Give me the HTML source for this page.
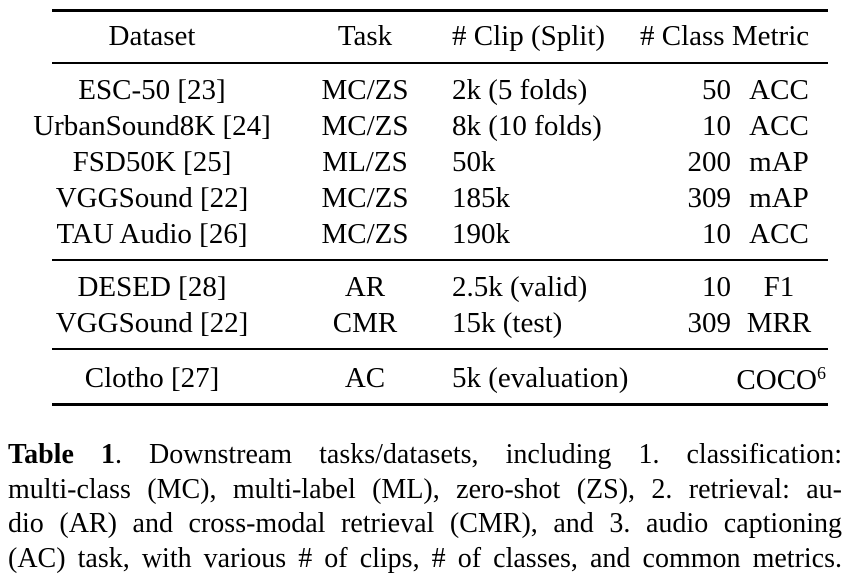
<!DOCTYPE html>
<html><head><style>
body{margin:0;width:852px;height:586px;background:#fff;overflow:hidden;position:relative;font-family:"Liberation Serif",serif;color:#000}
.t{position:absolute;font-size:29px;white-space:nowrap;line-height:1}
.c{transform:translateX(-50%)}
.r{transform:translateX(-100%)}
.rule{position:absolute;left:52px;width:776px;background:#000}
.cap{position:absolute;left:8px;width:834px;top:438px;font-size:28px;line-height:34.5px}
.cap div{text-align:justify;text-align-last:justify;white-space:nowrap;height:34.5px}
</style></head><body>
<div class="rule" style="top:9px;height:3px"></div>
<div class="rule" style="top:62px;height:2px"></div>
<div class="rule" style="top:259px;height:2px"></div>
<div class="rule" style="top:348px;height:2px"></div>
<div class="rule" style="top:403px;height:3px"></div>
<div id="tbl"></div>
<script>
var rows=[[45,"Dataset","Task","# Clip (Split)","# Class","Metric",1],
[99,"ESC-50 [23]","MC/ZS","2k (5 folds)","50","ACC"],
[135,"UrbanSound8K [24]","MC/ZS","8k (10 folds)","10","ACC"],
[171,"FSD50K [25]","ML/ZS","50k","200","mAP"],
[207,"VGGSound [22]","MC/ZS","185k","309","mAP"],
[243,"TAU Audio [26]","MC/ZS","190k","10","ACC"],
[296,"DESED [28]","AR","2.5k (valid)","10","F1"],
[332,"VGGSound [22]","CMR","15k (test)","309","MRR"],
[387,"Clotho [27]","AC","5k (evaluation)","","COCO<sup style='font-size:18px;vertical-align:10px'>6</sup>"]];
var h="";
rows.forEach(function(r){var top=r[0]-23;
h+='<div class="t c" style="left:152px;top:'+top+'px">'+r[1]+'</div>';
h+='<div class="t c" style="left:365px;top:'+top+'px">'+r[2]+'</div>';
h+='<div class="t" style="left:452px;top:'+top+'px">'+r[3]+'</div>';
if(r[6]){h+='<div class="t" style="left:640px;top:'+top+'px">'+r[4]+' '+r[5]+'</div>';}
else{h+='<div class="t r" style="left:731px;top:'+top+'px">'+r[4]+'</div>';
if(r[4]==="")h+='<div class="t r" style="left:826px;top:'+top+'px">'+r[5]+'</div>';
else h+='<div class="t c" style="left:779px;top:'+top+'px">'+r[5]+'</div>';}
});
document.getElementById("tbl").innerHTML=h;
</script>
<div class="cap">
<div><b>Table 1</b>. Downstream tasks/datasets, including 1. classification:</div>
<div>multi-class (MC), multi-label (ML), zero-shot (ZS), 2. retrieval: au-</div>
<div>dio (AR) and cross-modal retrieval (CMR), and 3. audio captioning</div>
<div>(AC) task, with various # of clips, # of classes, and common metrics.</div>
</div>
</body></html>
